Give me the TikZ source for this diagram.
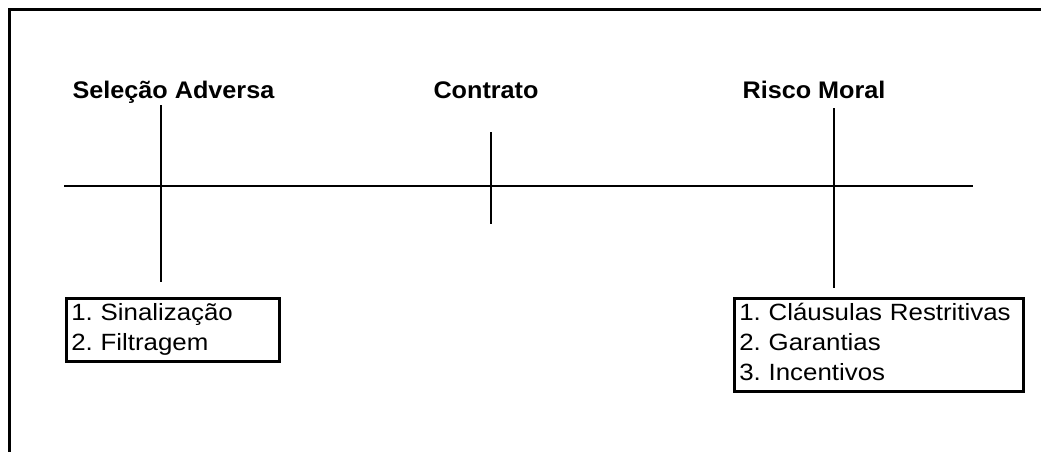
\documentclass[tikz,border=0pt]{standalone}
\usepackage{fontspec}
\setmainfont{Liberation Sans}
\newfontfamily\titlefont[FakeStretch=1.05]{Liberation Sans}
\newfontfamily\itemfont[FakeStretch=1.1]{Liberation Sans}
\frenchspacing
\begin{document}
\begin{tikzpicture}[x=1pt,y=1pt,
  titlelbl/.style={anchor=base,inner sep=0pt,font=\titlefont\bfseries\fontsize{24}{28}\selectfont},
  listbox/.style={draw,line width=2.6pt,anchor=north west,align=left,inner xsep=5pt,inner ysep=1.5pt,
     font=\itemfont\fontsize{23.5}{30}\selectfont},
  tline/.style={line width=2pt},
  frameline/.style={line width=3pt}]
\useasboundingbox (0,0) rectangle (1041,-452);
\fill[white] (0,0) rectangle (1041,-452);
% frame (top and left edges)
\coordinate (fbl) at (9,-452);
\coordinate (ftl) at (9,-10);
\coordinate (ftr) at (1041,-10);
\draw[frameline] (fbl) -- (ftl) -- (ftr);
% titles
\node[titlelbl] (sel) at (173.5,-99) {Seleção Adversa};
\node[titlelbl] (con) at (486,-99) {Contrato};
\node[titlelbl] (ris) at (814,-99) {Risco Moral};
% timeline
\coordinate (tl) at (64,-185.5);
\coordinate (tr) at (972.5,-185.5);
\draw[tline] (tl) -- (tr);
% vertical ticks
\coordinate (s1) at (161,-105);
\coordinate (s2) at (161,-282);
\coordinate (c1) at (490.5,-132);
\coordinate (c2) at (490.5,-224);
\coordinate (r1) at (834,-108);
\coordinate (r2) at (834,-288);
\draw[tline] (s1) -- (s2);
\draw[tline] (c1) -- (c2);
\draw[tline] (r1) -- (r2);
% boxes
\node[listbox,text width=203pt] (b1) at (65,-297) {\strut 1. Sinalização\\\strut 2. Filtragem};
\node[listbox,text width=279pt] (b2) at (733,-297) {\strut 1. Cláusulas Restritivas\\\strut 2. Garantias\\\strut 3. Incentivos};
\end{tikzpicture}
\end{document}
